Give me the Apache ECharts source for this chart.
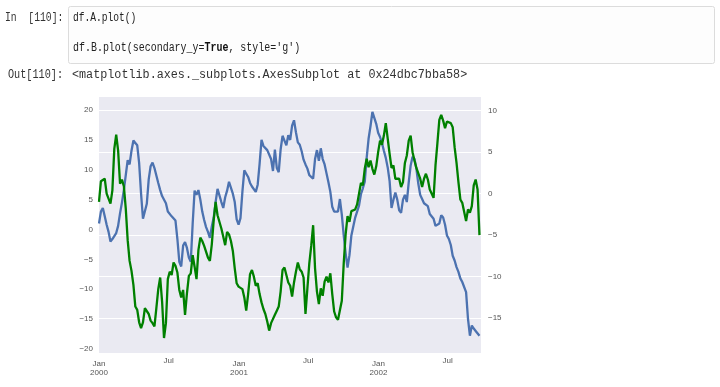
<!DOCTYPE html>
<html>
<head>
<meta charset="utf-8">
<script src="https://cdn.jsdelivr.net/npm/echarts@6/dist/echarts.min.js"></script>
<style>
html,body{margin:0;padding:0;background:#fff;}
#chart{width:720px;height:387px;}
</style>
</head>
<body>
<div id="chart"></div>
<script>
// daily index starting 2000-01-01, one sample every 5 days
const startDate = '2000-01-01';
const dayStep = 5;
const seriesA = [
1.0,3.0,3.6,2.2,0.8,-0.4,-2.0,-1.6,-1.8,-0.6,
0.6,2.7,4.5,6.6,9.1,11.6,10.9,13.2,14.9,14.5,
14.1,11.1,6.0,1.8,1.7,4.3,8.4,10.6,11.2,10.3,
10.3,7.8,6.6,5.6,5.6,4.4,3.0,3.2,2.2,1.9,
1.5,-1.6,-5.4,-6.2,-2.7,-2.1,-3.1,-4.7,-5.4,1.0,
6.5,5.8,6.6,5.0,3.0,1.6,0.4,-0.4,-1.4,0.5,
2.0,4.6,6.8,6.5,4.6,3.6,5.4,6.5,8.0,7.8,
6.0,4.6,1.7,0.8,1.9,6.3,9.9,9.8,8.8,7.8,
7.2,7.5,6.3,7.5,11.0,15.0,14.0,13.7,13.3,13.5,
11.8,9.8,13.4,10.3,9.6,13.4,15.7,14.9,14.1,15.8,
15.0,17.4,18.3,16.3,14.6,14.2,13.1,11.7,10.9,10.2,
9.1,8.9,8.5,11.8,13.3,11.5,13.6,11.8,10.9,9.4,
7.9,6.3,3.8,3.0,3.3,3.0,5.1,2.5,-1.0,-4.0,
-6.4,-4.3,-1.0,0.5,2.0,1.9,4.0,5.9,6.9,8.0,
12.0,15.2,17.3,19.7,19.8,17.7,16.2,15.5,14.5,13.2,
12.0,10.4,8.1,3.6,5.0,6.2,5.0,3.2,2.8,5.0,
5.8,4.6,7.9,10.7,12.2,11.8,10.2,7.7,5.8,5.1,
4.4,4.3,3.9,2.6,2.9,1.8,0.6,0.4,1.0,2.4,
2.0,0.8,-1.0,-1.6,-2.6,-4.4,-5.2,-6.3,-7.1,-8.2,
-8.8,-9.0,-10.5,-15.0,-17.8,-16.1,-16.6,-17.0,-16.8,-17.8
];
const seriesB = [
-1.0,1.5,1.6,1.8,0.0,-0.1,-1.2,0.4,5.4,7.1,
5.2,1.2,1.7,0.9,-1.8,-5.6,-8.1,-9.3,-11.0,-13.6,
-14.0,-15.5,-16.2,-15.5,-13.8,-13.7,-14.5,-15.3,-15.6,-16.0,
-13.8,-11.5,-10.1,-13.0,-17.4,-15.6,-10.3,-9.4,-9.8,-8.3,
-8.7,-9.5,-11.6,-12.5,-11.6,-14.6,-12.0,-9.9,-9.6,-7.4,
-8.8,-10.3,-6.8,-5.3,-5.7,-6.3,-6.3,-7.7,-8.1,-6.1,
-3.2,-1.0,-2.6,-2.4,-4.2,-5.2,-6.2,-4.6,-4.9,-5.7,
-6.9,-9.0,-10.8,-11.2,-11.2,-11.5,-12.5,-14.1,-12.1,-9.7,
-9.2,-10.0,-11.1,-10.8,-12.1,-13.1,-13.9,-14.5,-15.4,-16.5,
-15.6,-15.8,-14.6,-14.1,-13.6,-11.8,-9.2,-8.9,-9.8,-10.7,
-11.1,-12.4,-10.7,-9.4,-8.3,-9.1,-9.4,-10.1,-14.5,-11.4,
-8.4,-6.3,-3.8,-9.0,-11.8,-13.3,-11.4,-12.3,-10.6,-10.0,
-10.7,-9.6,-12.1,-14.2,-14.9,-15.2,-15.4,-12.9,-8.4,-4.9,
-2.7,-3.4,-2.1,-1.9,-1.9,-1.3,-1.4,1.3,1.0,3.0,
4.2,3.2,4.0,3.0,2.3,3.3,5.0,6.4,5.9,7.0,
8.5,8.5,4.8,3.1,3.4,1.8,1.6,1.8,0.8,1.4,
3.7,4.6,6.4,7.0,5.0,4.0,3.1,3.0,1.8,0.8,
1.8,2.4,1.7,0.5,0.6,-0.5,3.4,6.1,8.9,9.5,
8.8,7.9,8.7,8.8,8.5,8.0,5.6,3.7,1.4,-0.7,
-1.1,-1.3,-3.3,-1.9,-2.3,-1.5,1.0,1.7,0.5,-5.0
];
const xTickDays = [0, 182, 366, 547, 731, 912];
const xTickLabels = ['Jan\n2000', 'Jul', 'Jan\n2001', 'Jul', 'Jan\n2002', 'Jul'];
const yLeftTicks = [-20, -15, -10, -5, 0, 5, 10, 15, 20];
const yRightTicks = [-15, -10, -5, 0, 5, 10];
const lastDay = 999;

const dataA = seriesA.map((v, i) => [i * dayStep, v]);
const dataB = seriesB.map((v, i) => [i * dayStep, v]);
const fmtNum = v => (v < 0 ? '\u2212' + Math.abs(v) : String(v));

const chart = echarts.init(document.getElementById('chart'), null, {renderer: 'canvas'});
const codeFont = '12px "Liberation Mono", "DejaVu Sans Mono", monospace';
chart.setOption({
  animation: false,
  backgroundColor: '#ffffff',
  grid: {left: 99, right: 239, top: 97, bottom: 34, show: true, backgroundColor: '#eaeaf2', borderWidth: 0},
  xAxis: {
    type: 'value', min: 0, max: lastDay,
    axisLine: {show: false}, axisTick: {show: false, customValues: xTickDays}, splitLine: {show: false},
    axisLabel: {
      customValues: xTickDays, margin: 6, color: '#555', fontSize: 8, lineHeight: 9,
      fontFamily: 'Liberation Sans, Arial, sans-serif',
      formatter: v => {
        const k = xTickDays.indexOf(v);
        if (k < 0) return '';
        const t = xTickLabels[k];
        return t.indexOf('\n') >= 0 ? t : '{m|' + t + '}';
      },
      rich: {m: {fontSize: 8, lineHeight: 3, color: '#555', fontFamily: 'Liberation Sans, Arial, sans-serif'}}
    }
  },
  yAxis: [{
    type: 'value', min: -20.7, max: 22.2, position: 'left',
    axisLine: {show: false}, axisTick: {show: false, customValues: yLeftTicks}, splitLine: {show: false},
    axisLabel: {customValues: yLeftTicks, margin: 6, color: '#555', fontSize: 8, fontFamily: 'Liberation Sans, Arial, sans-serif', formatter: fmtNum}
  }, {
    type: 'value', min: -19.2, max: 11.65, position: 'right',
    axisLine: {show: false}, axisTick: {show: false, customValues: yRightTicks},
    splitLine: {show: true, lineStyle: {color: '#ffffff', width: 1}},
    axisLabel: {customValues: yRightTicks, margin: 7, color: '#555', fontSize: 8, fontFamily: 'Liberation Sans, Arial, sans-serif', formatter: fmtNum}
  }],
  series: [{
    name: 'A', type: 'line', data: dataA, yAxisIndex: 0, showSymbol: false, z: 2,
    lineStyle: {color: '#4c72b0', width: 2.3}, itemStyle: {color: '#4c72b0'}
  }, {
    name: 'B', type: 'line', data: dataB, yAxisIndex: 1, showSymbol: false, z: 3,
    lineStyle: {color: '#008000', width: 2.3}, itemStyle: {color: '#008000'}
  }],
  graphic: [
    {type: 'rect', left: 68, top: 6, shape: {width: 646, height: 57, r: 2},
     style: {fill: '#fdfdfd', stroke: '#dcdcdc', lineWidth: 1}, silent: true},
    {type: 'text', x: 5, y: 18, scaleX: 0.81,
     style: {text: 'In  [110]:', font: codeFont, fill: '#333', textVerticalAlign: 'middle'}},
    {type: 'text', x: 73, y: 18, scaleX: 0.8,
     style: {text: 'df.A.plot()', font: codeFont, fill: '#222', textVerticalAlign: 'middle'}},
    {type: 'text', x: 73, y: 48, scaleX: 0.83,
     style: {text: "df.B.plot(secondary_y={b|True}, style='g')", font: codeFont, fill: '#222', textVerticalAlign: 'middle',
       rich: {b: {font: 'bold 12px "Liberation Mono", monospace', fill: '#111'}}}},
    {type: 'text', x: 8, y: 75, scaleX: 0.85,
     style: {text: 'Out[110]:', font: codeFont, fill: '#333', textVerticalAlign: 'middle'}},
    {type: 'text', x: 72, y: 75, scaleX: 0.98,
     style: {text: '<matplotlib.axes._subplots.AxesSubplot at 0x24dbc7bba58>', font: codeFont, fill: '#333', textVerticalAlign: 'middle'}}
  ]
});
</script>
</body>
</html>
